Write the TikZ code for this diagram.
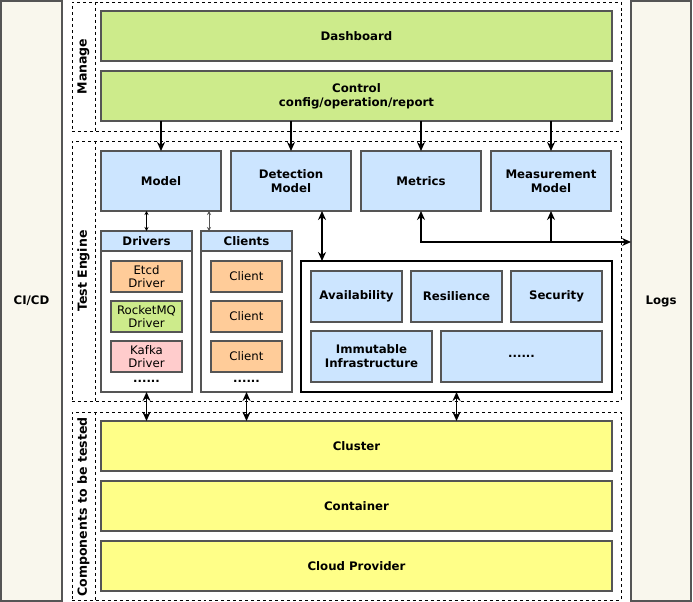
\documentclass[tikz,border=0pt]{standalone}
\usepackage{fontspec}
\setmainfont{DejaVu Sans}
\usetikzlibrary{arrows.meta}
\definecolor{cgreen}{HTML}{CDEB8B}
\definecolor{cblue}{HTML}{CCE5FF}
\definecolor{corange}{HTML}{FFCC99}
\definecolor{cpink}{HTML}{FFCCCC}
\definecolor{cyellow}{HTML}{FFFF88}
\definecolor{ccream}{HTML}{F9F7ED}
\definecolor{cborder}{HTML}{555555}
\tikzset{
  x=1bp, y=-1bp,
  box/.style={draw=cborder, line width=1.6bp, inner sep=0pt, outer sep=0pt,
    align=center, font=\fontsize{11.8}{14}\selectfont\bfseries},
  side/.style={box, fill=ccream, minimum width=60bp, minimum height=600bp},
  green/.style={box, fill=cgreen},
  blue/.style={box, fill=cblue},
  yellow/.style={box, fill=cyellow, minimum width=511bp, minimum height=50bp},
  topbox/.style={blue, minimum width=120bp, minimum height=60bp},
  holder/.style={box, fill=white, minimum width=91bp, minimum height=161bp},
  header/.style={blue, minimum width=91bp, minimum height=20bp},
  item/.style={box, font=\fontsize{11.8}{13}\selectfont, minimum width=71bp, minimum height=31bp},
  testbox/.style={blue, minimum height=51bp},
  group/.style={draw, dashed, line width=0.8bp, inner sep=0pt, outer sep=0pt,
    minimum width=549bp},
  grouplabel/.style={rotate=90, font=\fontsize{12.6}{14}\selectfont\bfseries},
  dots/.style={font=\fontsize{11.8}{14}\selectfont\bfseries, inner sep=0pt},
  arr/.style={line width=1.5bp, -{Stealth[length=9bp,width=8bp]}},
  darr/.style={line width=1.5bp, {Stealth[length=9bp,width=8bp]}-{Stealth[length=9bp,width=8bp]}},
  sarr/.style={line width=0.8bp, {Stealth[length=4bp,width=4bp]}-{Stealth[length=4bp,width=4bp]}},
}
\begin{document}
\begin{tikzpicture}
\useasboundingbox (0,0) rectangle (693,602);

% side columns
\node[side, minimum width=61bp] (cicd) at (31.5,301) {CI/CD};
\node[side] (logs) at (661,301) {Logs};

% groups
\node[group, minimum height=129bp] (manage) at (346.5,66.5) {};
\node[group, minimum height=260bp] (engine) at (346.5,271) {};
\node[group, minimum height=188bp] (comp) at (346.5,506) {};
\draw[dashed, line width=0.8bp] (95,2) -- (95,131);
\draw[dashed, line width=0.8bp] (95,141) -- (95,401);
\draw[dashed, line width=0.8bp] (95,412) -- (95,600);
\node[grouplabel] (lmanage) at (83.5,66.5) {Manage};
\node[grouplabel] (lengine) at (83.5,271) {Test Engine};
\node[grouplabel] (lcomp) at (83.5,507) {Components to be tested};

% manage
\node[green, minimum width=511bp, minimum height=50bp] (dash) at (356.5,36) {Dashboard};
\node[green, minimum width=511bp, minimum height=50bp] (control) at (356.5,96) {Control\\config/operation/report};

% top row of engine
\node[topbox] (model) at (161,181) {Model};
\node[topbox] (detect) at (291,181) {Detection\\Model};
\node[topbox] (metrics) at (421,181) {Metrics};
\node[topbox] (measure) at (551,181) {Measurement\\Model};

\foreach \n in {model,detect,metrics,measure}
  \draw[arr] (control.south -| \n.north) -- (\n.north);

% drivers and clients
\node[holder] (drivers) at (146.5,311.5) {};
\node[header] (drvhead) at (146.5,241) {Drivers};
\node[item, fill=corange] (etcd) at (146.5,276.5) {Etcd\\Driver};
\node[item, fill=cgreen] (rocket) at (146.5,316.5) {RocketMQ\\Driver};
\node[item, fill=cpink] (kafka) at (146.5,356.5) {Kafka\\Driver};
\node[dots] (ddots) at (146.5,381) {......};

\node[holder] (clients) at (246.5,311.5) {};
\node[header] (clihead) at (246.5,241) {Clients};
\node[item, fill=corange] (c1) at (246.5,276.5) {Client};
\node[item, fill=corange] (c2) at (246.5,316.5) {Client};
\node[item, fill=corange] (c3) at (246.5,356.5) {Client};
\node[dots] (cdots) at (246.5,381) {......};

\draw[sarr] (model.south -| drivers.north) -- (drivers.north);
\coordinate (cin) at (209,231);
\draw[sarr, draw=cborder] (model.south -| cin) -- (cin);

% test types
\node[box, draw=black, line width=2bp, fill=white, minimum width=311bp, minimum height=131bp] (tests) at (456.5,326.5) {};
\node[testbox, minimum width=91bp] (avail) at (356.5,296.5) {Availability};
\node[testbox, minimum width=91bp] (resil) at (456.5,296.5) {Resilience};
\node[testbox, minimum width=91bp] (secur) at (556.5,296.5) {Security};
\node[testbox, minimum width=121bp] (immut) at (371.5,356.5) {Immutable\\Infrastructure};
\node[testbox, minimum width=161bp] (more) at (521.5,356.5) {......};

\coordinate (tin) at (322,261);
\draw[darr] (detect.south -| tin) -- (tin);

% metrics to logs
\coordinate (j) at (551,242);
\draw[darr] (metrics.south) |- (logs.west |- j);
\draw[arr] (j) -- (measure.south);

% components
\node[yellow] (cluster) at (356.5,446) {Cluster};
\node[yellow] (container) at (356.5,506) {Container};
\node[yellow] (cloud) at (356.5,566) {Cloud Provider};

\draw[darr] (drivers.south) -- (drivers.south |- cluster.north);
\draw[darr] (clients.south) -- (clients.south |- cluster.north);
\draw[darr] (tests.south) -- (tests.south |- cluster.north);
\end{tikzpicture}
\end{document}
